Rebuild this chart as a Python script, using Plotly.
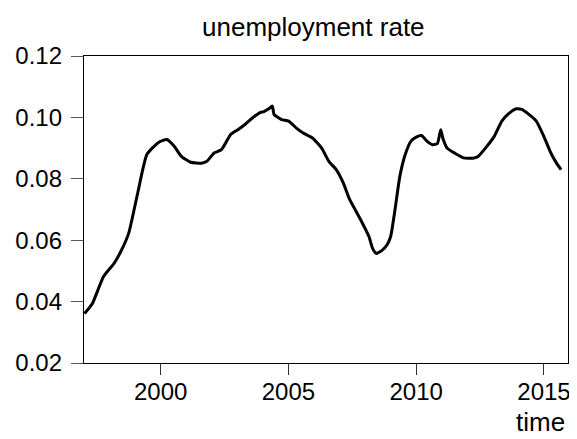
import plotly.graph_objects as go

years = [1997.02, 1997.33, 1997.76, 1998.18, 1998.47, 1998.75, 1999.10, 1999.46,
         1999.89, 2000.24, 2000.53, 2000.81, 2001.17, 2001.60, 2001.81, 2002.09,
         2002.38, 2002.74, 2003.02, 2003.30, 2003.59, 2003.87, 2004.04, 2004.23,
         2004.37, 2004.44, 2004.73, 2005.01, 2005.30, 2005.58, 2005.94, 2006.30,
         2006.58, 2006.87, 2007.15, 2007.37, 2007.58, 2007.86, 2008.15, 2008.29,
         2008.43, 2008.65, 2008.86, 2009.00, 2009.15, 2009.36, 2009.57, 2009.79,
         2010.00, 2010.21, 2010.43, 2010.64, 2010.83, 2010.96, 2011.04, 2011.21,
         2011.50, 2011.85, 2012.21, 2012.42, 2012.71, 2013.06, 2013.35, 2013.63,
         2013.92, 2014.13, 2014.42, 2014.70, 2014.99, 2015.27, 2015.49, 2015.67]
unemployment = [0.0361, 0.0394, 0.0481, 0.0525, 0.0568, 0.0623, 0.0753, 0.0879,
                0.0917, 0.0928, 0.0906, 0.0873, 0.0854, 0.0851, 0.0857, 0.0884,
                0.0895, 0.0944, 0.0960, 0.0977, 0.0998, 0.1015, 0.1019, 0.1028,
                0.1037, 0.1009, 0.0993, 0.0988, 0.0966, 0.0949, 0.0933, 0.0900,
                0.0857, 0.0830, 0.0786, 0.0737, 0.0704, 0.0661, 0.0612, 0.0574,
                0.0557, 0.0566, 0.0585, 0.0612, 0.0688, 0.0808, 0.0879, 0.0922,
                0.0936, 0.0941, 0.0922, 0.0911, 0.0915, 0.0960, 0.0933, 0.0900,
                0.0884, 0.0868, 0.0867, 0.0873, 0.0900, 0.0939, 0.0988, 0.1013,
                0.1028, 0.1026, 0.1009, 0.0988, 0.0939, 0.0884, 0.0851, 0.0830]

x_ticks = [2000, 2005, 2010, 2015]
y_ticks = [0.02, 0.04, 0.06, 0.08, 0.10, 0.12]

FONT = "Liberation Sans, Arial, sans-serif"

fig = go.Figure()
fig.add_trace(go.Scatter(x=years, y=unemployment, mode="lines",
                         line=dict(color="black", width=3, shape="spline", smoothing=0.5),
                         showlegend=False, hoverinfo="skip"))

# page has an 8px body margin, so the figure is sized to fill the rest
fig.update_layout(
    width=569, height=431,
    margin=dict(l=72, r=7, t=48, b=76, pad=0),
    paper_bgcolor="white", plot_bgcolor="white",
    font=dict(family=FONT, color="black", size=24),
    annotations=[
        dict(text="unemployment rate", x=0.4735, y=1, yshift=29, xref="paper", yref="paper",
             showarrow=False, font=dict(size=26, family=FONT, color="black"),
             xanchor="center", yanchor="middle"),
        dict(text="time", x=0.998, y=0, yshift=-75.5, xref="paper", yref="paper",
             showarrow=False, font=dict(size=26, family=FONT, color="black"),
             xanchor="right", yanchor="bottom"),
    ],
)

fig.update_xaxes(range=[1997.0, 2015.94], tickmode="array", tickvals=x_ticks,
                 ticktext=[str(v) for v in x_ticks],
                 ticks="outside", ticklen=11, tickwidth=1.2, tickcolor="#333",
                 showline=True, linecolor="black", linewidth=1.3, mirror=True,
                 showgrid=False, zeroline=False, ticklabelstandoff=-4,
                 tickfont=dict(size=24, family=FONT, color="black"))
fig.update_yaxes(range=[0.02, 0.12], tickmode="array", tickvals=y_ticks,
                 ticktext=[f"{v:.2f}" for v in y_ticks],
                 ticks="outside", ticklen=12, tickwidth=1.2, tickcolor="#555",
                 showline=True, linecolor="black", linewidth=1.3, mirror=True,
                 showgrid=False, zeroline=False, ticklabelstandoff=4,
                 tickfont=dict(size=24, family=FONT, color="black"))

fig.write_html("out.html")
